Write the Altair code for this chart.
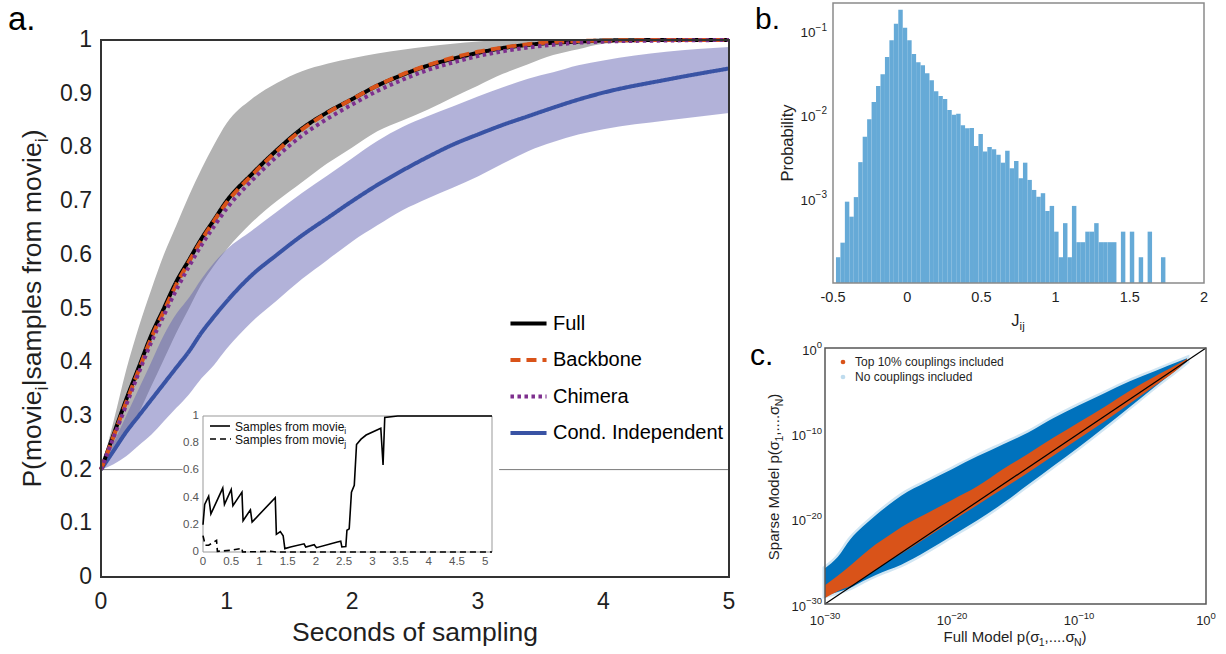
import altair as alt
import pandas as pd

FONT = "Liberation Sans"
INK = "#1f1f1f"

# ---------------- panel a: posterior vs. sampling time ----------------
t_a = [0, 0.1, 0.2, 0.3, 0.4, 0.5, 0.6, 0.7, 0.8, 0.9, 1.0, 1.2, 1.4, 1.6, 1.8, 2.0,
       2.2, 2.4, 2.6, 2.8, 3.0, 3.2, 3.4, 3.6, 3.8, 4.0, 4.5, 5.0]
full = [0.2, 0.265, 0.33, 0.39, 0.45, 0.50, 0.55, 0.59, 0.63, 0.665, 0.70, 0.75, 0.795, 0.835,
        0.865, 0.89, 0.915, 0.935, 0.952, 0.965, 0.976, 0.985, 0.991, 0.995, 0.997, 0.999, 1.0, 1.0]
backbone = [0.2, 0.262, 0.325, 0.385, 0.445, 0.495, 0.545, 0.587, 0.627, 0.663, 0.697, 0.748, 0.793,
            0.833, 0.864, 0.89, 0.915, 0.936, 0.953, 0.967, 0.978, 0.986, 0.992, 0.996, 0.998, 0.999,
            1.0, 1.0]
chimera = [0.2, 0.26, 0.32, 0.38, 0.437, 0.487, 0.535, 0.578, 0.618, 0.653, 0.686, 0.738, 0.783,
           0.822, 0.853, 0.88, 0.905, 0.926, 0.944, 0.958, 0.97, 0.979, 0.986, 0.991, 0.995, 0.997,
           0.999, 1.0]
cond_ind = [0.2, 0.235, 0.27, 0.30, 0.33, 0.36, 0.39, 0.42, 0.455, 0.485, 0.513, 0.562, 0.60, 0.636,
            0.668, 0.70, 0.73, 0.757, 0.782, 0.805, 0.824, 0.842, 0.858, 0.874, 0.889, 0.902, 0.926, 0.947]
gray_hi = [0.2, 0.29, 0.385, 0.465, 0.535, 0.60, 0.655, 0.71, 0.76, 0.805, 0.845, 0.89, 0.92, 0.942,
           0.956, 0.966, 0.975, 0.982, 0.988, 0.993, 0.997, 1.0, 1.0, 1.0, 1.0, 1.0, 1.0, 1.0]
gray_lo = [0.2, 0.23, 0.265, 0.305, 0.355, 0.405, 0.455, 0.50, 0.545, 0.58, 0.61, 0.66, 0.70, 0.735,
           0.77, 0.80, 0.83, 0.85, 0.87, 0.893, 0.915, 0.937, 0.955, 0.972, 0.983, 0.993, 1.0, 1.0]
lav_hi = [0.2, 0.25, 0.30, 0.35, 0.40, 0.45, 0.49, 0.52, 0.555, 0.585, 0.61, 0.645, 0.68, 0.715,
          0.747, 0.78, 0.812, 0.838, 0.858, 0.876, 0.895, 0.912, 0.928, 0.94, 0.953, 0.962, 0.978, 0.987]
lav_lo = [0.2, 0.21, 0.225, 0.245, 0.265, 0.29, 0.315, 0.34, 0.37, 0.395, 0.425, 0.475, 0.515, 0.555,
          0.59, 0.625, 0.655, 0.683, 0.705, 0.725, 0.746, 0.77, 0.793, 0.81, 0.824, 0.834, 0.85, 0.864]
# chance level (0.2) drawn left and right of the inset
chance_from = [0, 3.17]
chance_to = [0.65, 5]
chance_level = 0.2
models = ["Full", "Backbone", "Chimera", "Cond. Independent"]
model_colors = ["#000000", "#D95319", "#7E2F8E", "#3953A4"]
model_dash = [[1, 0], [10, 6], [3.5, 3.5], [1, 0]]
a_xticks = [0, 1, 2, 3, 4, 5]
a_xlabels = ["0", "1", "2", "3", "4", "5"]
a_yticks = [0, 0.1, 0.2, 0.3, 0.4, 0.5, 0.6, 0.7, 0.8, 0.9, 1.0]
a_ylabels = ["0", "0.1", "0.2", "0.3", "0.4", "0.5", "0.6", "0.7", "0.8", "0.9", "1"]

# ---------------- inset: single trial ----------------
ins_i_t = [0, 0.03, 0.1, 0.14, 0.35, 0.38, 0.5, 0.53, 0.69, 0.71, 0.84, 0.87, 1.28, 1.30, 1.37,
           1.42, 1.45, 1.55, 1.79, 1.82, 1.97, 2.01, 2.38, 2.44, 2.46, 2.53, 2.55, 2.59, 2.63, 2.68,
           2.72, 2.80, 2.89, 3.15, 3.19, 3.22, 3.45, 5.12]
ins_i_v = [0.2, 0.35, 0.41, 0.28, 0.47, 0.35, 0.46, 0.34, 0.44, 0.23, 0.31, 0.22, 0.40, 0.13, 0.15,
           0.12, 0.025, 0.037, 0.06, 0.037, 0.054, 0.032, 0.074, 0.08, 0.037, 0.04, 0.16, 0.17, 0.44,
           0.49, 0.79, 0.83, 0.86, 0.91, 0.64, 0.99, 1.0, 1.0]
ins_j_t = [0, 0.04, 0.1, 0.24, 0.255, 0.48, 0.66, 0.69, 0.70, 1.2, 1.3, 5.12]
ins_j_v = [0.12, 0.05, 0.05, 0.086, 0.005, 0.012, 0.025, 0.03, 0.0, 0.005, 0.0, 0.0]
ins_xticks = [0, 0.5, 1, 1.5, 2, 2.5, 3, 3.5, 4, 4.5, 5]
ins_xlabels = ["0", "0.5", "1", "1.5", "2", "2.5", "3", "3.5", "4", "4.5", "5"]
ins_yticks = [0, 0.2, 0.4, 0.6, 0.8, 1]
ins_ylabels = ["0", "0.2", "0.4", "0.6", "0.8", "1"]

# ---------------- panel b: coupling histogram ----------------
bin_start, bin_width = -0.48, 0.03
hist_p = [2.03e-4, 3.03e-4, 9.35e-4, 6.19e-4, 1.06e-3, 2.77e-3, 5.58e-3, 9.02e-3, 1.45e-2, 2.25e-2,
          3.10e-2, 4.99e-2, 7.89e-2, 0.124, 0.182, 0.111, 0.0789, 0.0542, 0.0432, 0.0397,
          0.0319, 0.0263, 0.0195, 0.0171, 0.0157, 0.0116, 0.0102, 0.0105, 7.64e-3, 7.03e-3,
          7.10e-3, 4.33e-3, 6.01e-3, 3.70e-3, 4.21e-3, 3.95e-3, 3.40e-3, 2.73e-3, 3.80e-3, 2.34e-3,
          2.86e-3, 1.78e-3, 2.73e-3, 1.70e-3, 1.29e-3, 1.07e-3, 1.18e-3, 7.24e-4, 8.32e-4, 4.10e-4,
          2.03e-4, 5.18e-4, 2.03e-4, 8.32e-4, 3.07e-4, 3.07e-4, 4.10e-4, 4.10e-4, 5.18e-4, 3.07e-4,
          3.07e-4, 3.07e-4, 3.07e-4, 0, 4.10e-4, 0, 4.10e-4, 0, 2.03e-4, 0,
          4.10e-4, 0, 0, 2.03e-4]
b_xticks = [-0.5, 0, 0.5, 1, 1.5, 2]
b_xlabels = ["-0.5", "0", "0.5", "1", "1.5", "2"]
b_yticks = [1e-3, 1e-2, 1e-1]
b_yexps = ["\u22123", "\u22122", "\u22121"]

# ---------------- panel c: sparse vs full model (log10 exponents) ----------------
c_x = [-30, -29, -28, -27, -26, -25, -24, -22, -20, -18, -16, -14, -12, -10, -8, -6, -4, -2, -1.5]
blue_hi = [-25.8, -24.5, -22.4, -20.9, -19.6, -18.4, -17.3, -15.7, -14.2, -12.7, -11.3, -9.9, -8.2,
           -6.7, -5.3, -3.9, -2.7, -1.5, -1.2]
blue_lo = [-29.0, -28.6, -28.1, -27.3, -26.6, -26.0, -25.4, -23.8, -22.0, -20.2, -18.2, -16.0, -13.8,
           -11.6, -9.3, -6.9, -4.5, -2.2, -1.6]
org_hi = [-27.8, -26.7, -25.5, -24.2, -23.0, -22.0, -21.0, -19.4, -17.8, -16.2, -14.2, -12.4, -10.5,
          -8.7, -6.9, -5.0, -3.3, -1.7, -1.25]
org_lo = [-29.3, -28.5, -27.9, -27.0, -26.0, -25.0, -24.1, -22.2, -20.3, -18.4, -16.5, -14.6, -12.6,
          -10.6, -8.6, -6.5, -4.4, -2.2, -1.5]
diag = [1e-30, 1.0]
c_ticks = [1e-30, 1e-20, 1e-10, 1.0]
c_exps = ["\u221230", "\u221220", "\u221210", "0"]
c_legend = ["Top 10% couplings included", "No couplings included"]

# ======================================================================
ONE = pd.DataFrame({"k": [0]})

WIDTHS = {" ": 278, "(": 333, ")": 333, ",": 278, ".": 278, "|": 260, "%": 889, "σ": 570,
          "-": 333, "\u2212": 584,
          "A": 667, "B": 667, "C": 722, "D": 722, "E": 667, "F": 611, "G": 778, "H": 722, "I": 278,
          "J": 500, "K": 667, "L": 556, "M": 833, "N": 722, "O": 778, "P": 667, "Q": 778, "R": 722,
          "S": 667, "T": 611, "U": 722, "V": 667, "W": 944, "X": 667, "Y": 667, "Z": 611,
          "a": 556, "b": 556, "c": 500, "d": 556, "e": 556, "f": 278, "g": 556, "h": 556, "i": 222,
          "j": 222, "k": 500, "l": 222, "m": 833, "n": 556, "o": 556, "p": 556, "q": 556, "r": 333,
          "s": 500, "t": 278, "u": 556, "v": 500, "w": 722, "x": 500, "y": 500, "z": 500}


def text_w(s, size):
    return sum(WIDTHS.get(ch, 556) for ch in s) * size / 1000.0


def rich(pieces, x0, y0, size, angle=0, color=INK, anchor="middle", sub_ratio=0.7, sub_shift=0.25):
    sizes = [size * sub_ratio if sub else size for _, sub in pieces]
    widths = [text_w(txt, s) for (txt, _), s in zip(pieces, sizes)]
    total = sum(widths)
    pos = -total / 2 if anchor == "middle" else 0.0
    out = []
    for (txt, sub), s, w in zip(pieces, sizes, widths):
        shift = size * sub_shift if sub else 0.0
        if angle == 0:
            px, py = x0 + pos, y0 + shift
        else:
            px, py = x0 + shift, y0 - pos
        mk = dict(text=txt, align="left", baseline="alphabetic", font=FONT, fontSize=s, color=color)
        if angle:
            mk["angle"] = angle
        out.append(alt.Chart(ONE).mark_text(**mk).encode(x=alt.value(px), y=alt.value(py)))
        pos += w
    return out


def xtick_labels(values, labels, scale, ypix, size, color=INK):
    df = pd.DataFrame({"v": values, "lab": labels})
    return alt.Chart(df).mark_text(align="center", baseline="top", font=FONT, fontSize=size,
                                   color=color).encode(
        x=alt.X("v:Q", scale=scale, axis=None), y=alt.value(ypix), text="lab:N")


def ytick_labels(values, labels, scale, xpix, size, color=INK):
    df = pd.DataFrame({"v": values, "lab": labels})
    return alt.Chart(df).mark_text(align="right", baseline="middle", font=FONT, fontSize=size,
                                   color=color).encode(
        y=alt.Y("v:Q", scale=scale, axis=None), x=alt.value(xpix), text="lab:N")


def pow_xlabels(values, exps, scale, base_y, base_size, exp_size, raise_px):
    out = []
    wb = text_w("10", base_size)
    for v, e in zip(values, exps):
        we = text_w(e, exp_size)
        total = wb + we
        df = pd.DataFrame({"v": [v]})
        out.append(alt.Chart(df).mark_text(text="10", align="left", baseline="alphabetic", font=FONT,
                                           fontSize=base_size, color=INK, dx=-total / 2).encode(
            x=alt.X("v:Q", scale=scale, axis=None), y=alt.value(base_y)))
        out.append(alt.Chart(df).mark_text(text=e, align="left", baseline="alphabetic", font=FONT,
                                           fontSize=exp_size, color=INK, dx=-total / 2 + wb).encode(
            x=alt.X("v:Q", scale=scale, axis=None), y=alt.value(base_y - raise_px)))
    return out


def pow_ylabels(values, exps, scale, right_x, base_size, exp_size, raise_px, drop=0.0):
    out = []
    base_dy = 0.36 * base_size + drop
    for v, e in zip(values, exps):
        we = text_w(e, exp_size)
        df = pd.DataFrame({"v": [v]})
        out.append(alt.Chart(df).mark_text(text="10", align="right", baseline="alphabetic", font=FONT,
                                           fontSize=base_size, color=INK, dy=base_dy).encode(
            y=alt.Y("v:Q", scale=scale, axis=None), x=alt.value(right_x - we)))
        out.append(alt.Chart(df).mark_text(text=e, align="right", baseline="alphabetic", font=FONT,
                                           fontSize=exp_size, color=INK, dy=base_dy - raise_px).encode(
            y=alt.Y("v:Q", scale=scale, axis=None), x=alt.value(right_x)))
    return out


CH_W, CH_H = 1226, 654

# ---------------- panel a ----------------
xa = alt.Scale(domain=[0, 5], range=[101, 729], nice=False, zero=False)
ya = alt.Scale(domain=[0, 1], range=[577, 40], nice=False, zero=False)
bands = pd.DataFrame({"t": t_a, "ghi": gray_hi, "glo": gray_lo, "lhi": lav_hi, "llo": lav_lo})
rows = []
for name, vals in [("Cond. Independent", cond_ind), ("Full", full), ("Backbone", backbone),
                   ("Chimera", chimera)]:
    for t, v in zip(t_a, vals):
        rows.append({"model": name, "t": t, "v": v})
lines = pd.DataFrame(rows)
chance = pd.DataFrame({"t0": chance_from, "t1": chance_to, "v": [chance_level] * len(chance_from)})

gray = alt.Chart(bands).mark_area(color="#b3b3b3", interpolate="monotone").encode(
    x=alt.X("t:Q", scale=xa, axis=None), y=alt.Y("ghi:Q", scale=ya, axis=None), y2="glo:Q")
lav = alt.Chart(bands).mark_area(color="#6666b3", opacity=0.5, interpolate="monotone").encode(
    x=alt.X("t:Q", scale=xa, axis=None), y=alt.Y("lhi:Q", scale=ya, axis=None), y2="llo:Q")
chance_line = alt.Chart(chance).mark_rule(color="#7a7a7a", strokeWidth=1).encode(
    x=alt.X("t0:Q", scale=xa, axis=None), x2="t1:Q", y=alt.Y("v:Q", scale=ya, axis=None))
leg = alt.Legend(orient="none", legendX=508, legendY=303, title=None, labelFont=FONT,
                 labelFontSize=20, labelColor="#000000", symbolType="stroke", symbolSize=1300,
                 symbolStrokeWidth=4, rowPadding=5.5, labelOffset=4, padding=0, labelLimit=400)
model_lines = alt.Chart(lines).mark_line(strokeWidth=4, interpolate="monotone").encode(
    x=alt.X("t:Q", scale=xa, axis=None),
    y=alt.Y("v:Q", scale=ya, axis=None),
    color=alt.Color("model:N", scale=alt.Scale(domain=models, range=model_colors), legend=leg),
    strokeDash=alt.StrokeDash("model:N", scale=alt.Scale(domain=models, range=model_dash), legend=leg),
)
frame_a = alt.Chart(ONE).mark_rect(filled=False, stroke="#333333", strokeWidth=2).encode(
    x=alt.XDatum(0, scale=xa, axis=None), x2=alt.X2Datum(5),
    y=alt.YDatum(0, scale=ya, axis=None), y2=alt.Y2Datum(1))
panel_a = alt.layer(
    gray, lav, chance_line, model_lines, frame_a,
    xtick_labels(a_xticks, a_xlabels, xa, 591, 23),
    ytick_labels(a_yticks, a_ylabels, ya, 92, 23),
)

# ---------------- inset ----------------
xi = alt.Scale(domain=[0, 5.12], range=[203, 492], nice=False, zero=False)
yi = alt.Scale(domain=[0, 1], range=[552, 416], nice=False, zero=False)
ins_i = pd.DataFrame({"t": ins_i_t, "v": ins_i_v})
ins_j = pd.DataFrame({"t": ins_j_t, "v": ins_j_v})
ins_bg = alt.Chart(ONE).mark_rect(fill="white", stroke="#999999", strokeWidth=1).encode(
    x=alt.XDatum(0, scale=xi, axis=None), x2=alt.X2Datum(5.12),
    y=alt.YDatum(0, scale=yi, axis=None), y2=alt.Y2Datum(1))
ins_line_i = alt.Chart(ins_i).mark_line(color="#000000", strokeWidth=1.6).encode(
    x=alt.X("t:Q", scale=xi, axis=None), y=alt.Y("v:Q", scale=yi, axis=None))
ins_line_j = alt.Chart(ins_j).mark_line(color="#000000", strokeWidth=1.6, strokeDash=[6, 4]).encode(
    x=alt.X("t:Q", scale=xi, axis=None), y=alt.Y("v:Q", scale=yi, axis=None))
inset = alt.layer(
    ins_bg, ins_line_i, ins_line_j,
    xtick_labels(ins_xticks, ins_xlabels, xi, 555.5, 11.5, color="#555555"),
    ytick_labels(ins_yticks, ins_ylabels, yi, 199, 11.5, color="#555555"),
)
ins_leg = [
    alt.Chart(ONE).mark_rule(color="#000000", strokeWidth=1.6).encode(
        x=alt.value(210), x2=alt.value(230), y=alt.value(426)),
    alt.Chart(ONE).mark_rule(color="#000000", strokeWidth=1.6, strokeDash=[6, 4]).encode(
        x=alt.value(210), x2=alt.value(231), y=alt.value(439)),
]
ins_leg += rich([("Samples from movie", False), ("i", True)], 235, 430.5, 12, color="#111111",
                anchor="start")
ins_leg += rich([("Samples from movie", False), ("j", True)], 235, 443.5, 12, color="#111111",
                anchor="start")

# ---------------- panel b ----------------
xb = alt.Scale(domain=[-0.5, 2], range=[833, 1204], nice=False, zero=False)
yb = alt.Scale(type="log", domain=[1e-4, 0.2198], range=[283, 3], nice=False)
lo = [round(bin_start + bin_width * k, 4) for k in range(len(hist_p))]
hist = pd.DataFrame({"lo": lo, "hi": [round(v + bin_width, 4) for v in lo], "p": hist_p})
hist = hist[hist["p"] > 0]
bars = alt.Chart(hist).mark_rect(color="#66AAD7").encode(
    x=alt.X("lo:Q", scale=xb, axis=None), x2="hi:Q",
    y=alt.Y("p:Q", scale=yb, axis=None), y2=alt.Y2Datum(1e-4))
frame_b = alt.Chart(ONE).mark_rect(filled=False, stroke="#8a8a8a", strokeWidth=1.5).encode(
    x=alt.XDatum(-0.5, scale=xb, axis=None), x2=alt.X2Datum(2),
    y=alt.YDatum(1e-4, scale=yb, axis=None), y2=alt.Y2Datum(0.2198))
panel_b = alt.layer(
    bars, frame_b,
    xtick_labels(b_xticks, b_xlabels, xb, 290.5, 14.5),
    *pow_ylabels(b_yticks, b_yexps, yb, 827, 13.5, 10, 6.5, drop=0.5),
)

# ---------------- panel c ----------------
xc = alt.Scale(type="log", domain=[1e-30, 1], range=[825, 1206], nice=False)
yc = alt.Scale(type="log", domain=[1e-30, 1], range=[604, 348], nice=False)
cdf = pd.DataFrame({
    "fx": [10.0 ** e for e in c_x],
    "bhi": [10.0 ** e for e in blue_hi], "blo": [10.0 ** e for e in blue_lo],
    "ohi": [10.0 ** e for e in org_hi], "olo": [10.0 ** e for e in org_lo],
})
diag_df = pd.DataFrame({"fx": diag, "fy": diag})
blue_cloud = alt.Chart(cdf).mark_area(color="#0072BD", stroke="#0072BD", strokeOpacity=0.18,
                                      strokeWidth=5, interpolate="monotone").encode(
    x=alt.X("fx:Q", scale=xc, axis=None), y=alt.Y("bhi:Q", scale=yc, axis=None), y2="blo:Q")
org_cloud = alt.Chart(cdf).mark_area(color="#D95319", interpolate="monotone").encode(
    x=alt.X("fx:Q", scale=xc, axis=None), y=alt.Y("ohi:Q", scale=yc, axis=None), y2="olo:Q")
diag_line = alt.Chart(diag_df).mark_line(color="#000000", strokeWidth=1.2).encode(
    x=alt.X("fx:Q", scale=xc, axis=None), y=alt.Y("fy:Q", scale=yc, axis=None))
frame_c = alt.Chart(ONE).mark_rect(filled=False, stroke="#555555", strokeWidth=1.5).encode(
    x=alt.XDatum(1e-30, scale=xc, axis=None), x2=alt.X2Datum(1),
    y=alt.YDatum(1e-30, scale=yc, axis=None), y2=alt.Y2Datum(1))
panel_c = alt.layer(
    blue_cloud, org_cloud, diag_line, frame_c,
    *pow_xlabels(c_ticks, c_exps, xc, 625, 13, 9.5, 6.5),
    *pow_ylabels(c_ticks, c_exps, yc, 822, 13, 9.5, 6.5, drop=2),
)
c_leg = [
    alt.Chart(ONE).mark_point(filled=True, color="#D95319", size=22, opacity=1).encode(
        x=alt.value(843), y=alt.value(362)),
    alt.Chart(ONE).mark_point(filled=True, color="#0072BD", size=22, opacity=0.25).encode(
        x=alt.value(843), y=alt.value(377)),
    alt.Chart(ONE).mark_text(text=c_legend[0], align="left", baseline="middle", font=FONT,
                             fontSize=12, color=INK).encode(x=alt.value(855), y=alt.value(362)),
    alt.Chart(ONE).mark_text(text=c_legend[1], align="left", baseline="middle", font=FONT,
                             fontSize=12, color=INK).encode(x=alt.value(855), y=alt.value(377)),
]

# ---------------- titles and panel letters ----------------
texts = []
texts += rich([("Seconds of sampling", False)], 415, 641, 26.5)
texts += rich([("P(movie", False), ("i", True), ("|samples from movie", False), ("i", True), (")", False)],
              41, 308.5, 26.5, angle=270)
texts += rich([("Probability", False)], 793, 143, 16.5, angle=270)
texts += rich([("J", False), ("ij", True)], 1018, 326, 16.5)
texts += rich([("Full Model p(σ", False), ("1", True), (",....σ", False), ("N", True), (")", False)],
              1015, 642, 15)
texts += rich([("Sparse Model p(σ", False), ("1", True), (",....σ", False), ("N", True), (")", False)],
              779, 477, 15, angle=270)
for letter, lx, ly, fs in [("a.", 8, 30, 33), ("b.", 755, 28.5, 30), ("c.", 750, 365, 30)]:
    texts.append(alt.Chart(ONE).mark_text(text=letter, align="left", baseline="alphabetic", font=FONT,
                                          fontSize=fs, color="#000000").encode(
        x=alt.value(lx), y=alt.value(ly)))

chart = alt.layer(panel_a, inset, panel_b, panel_c, *ins_leg, *c_leg, *texts).resolve_scale(
    x="independent", y="independent"
).properties(
    width=CH_W, height=CH_H, padding=0, autosize=alt.AutoSizeParams(type="none"),
    background="white"
).configure_view(strokeWidth=0)

chart.save("out.html", embed_options={"renderer": "svg", "actions": False})
